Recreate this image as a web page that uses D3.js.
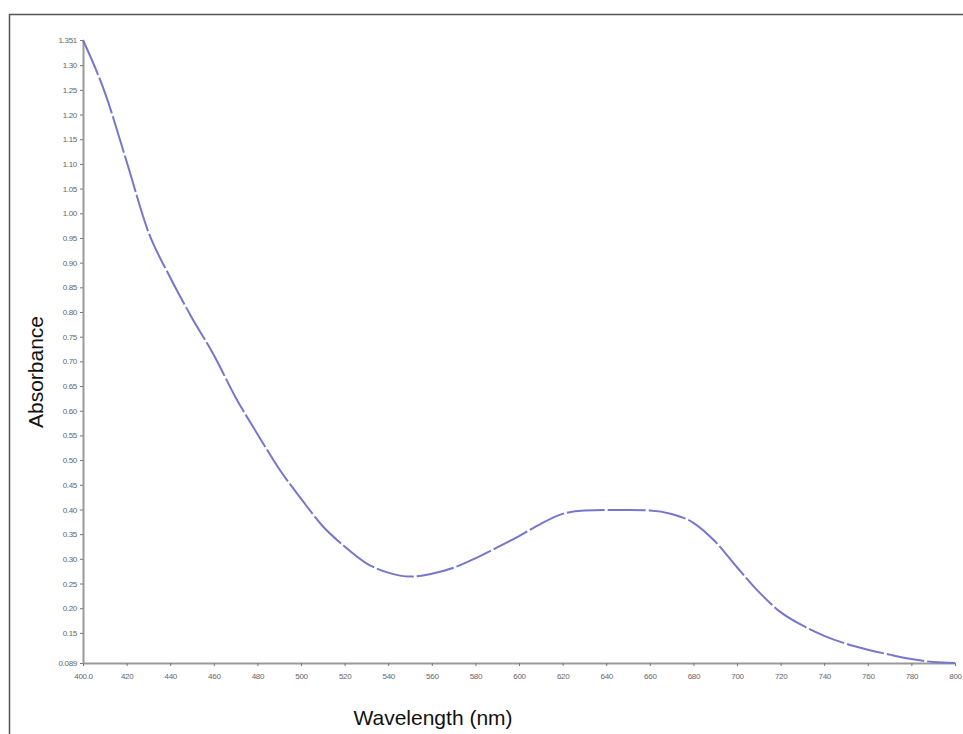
<!DOCTYPE html>
<html>
<head>
<meta charset="utf-8">
<script src="https://cdn.jsdelivr.net/npm/d3@7"></script>
<style>
  html, body { margin: 0; padding: 0; background: #fff; }
  svg { display: block; }
</style>
</head>
<body>
<svg id="chart" width="963" height="734"></svg>
<script>
// 波长 (nm) 与吸光度
const wavelengths = [400, 410, 420, 430, 440, 450, 460, 470, 480, 490, 500, 510, 520, 530, 540, 550,
  560, 570, 580, 590, 600, 610, 620, 630, 640, 650, 660, 670, 680, 690, 700, 710, 720, 730, 740,
  750, 760, 770, 780, 790, 800];
const absorbance = [1.351, 1.245, 1.105, 0.962, 0.870, 0.788, 0.713, 0.627, 0.553, 0.482, 0.422, 0.366,
  0.325, 0.291, 0.272, 0.264, 0.270, 0.282, 0.301, 0.323, 0.346, 0.371, 0.391, 0.398, 0.399, 0.399,
  0.398, 0.391, 0.373, 0.335, 0.283, 0.233, 0.192, 0.165, 0.144, 0.128, 0.116, 0.106, 0.097, 0.091, 0.089];

const xTicks = [400, 420, 440, 460, 480, 500, 520, 540, 560, 580, 600, 620, 640, 660, 680, 700, 720, 740, 760, 780, 800];
const xTickLabels = ["400.0", "420", "440", "460", "480", "500", "520", "540", "560", "580", "600", "620",
  "640", "660", "680", "700", "720", "740", "760", "780", "800"];
const yTicks = [1.351, 1.30, 1.25, 1.20, 1.15, 1.10, 1.05, 1.00, 0.95, 0.90, 0.85, 0.80, 0.75, 0.70, 0.65,
  0.60, 0.55, 0.50, 0.45, 0.40, 0.35, 0.30, 0.25, 0.20, 0.15, 0.089];
const yTickLabels = ["1.351", "1.30", "1.25", "1.20", "1.15", "1.10", "1.05", "1.00", "0.95", "0.90", "0.85",
  "0.80", "0.75", "0.70", "0.65", "0.60", "0.55", "0.50", "0.45", "0.40", "0.35", "0.30", "0.25", "0.20",
  "0.15", "0.089"];

const svg = d3.select("#chart");
const plot = {left: 83, right: 955, top: 40, bottom: 663};

const x = d3.scaleLinear().domain([400, 800]).range([plot.left, plot.right]);
const y = d3.scaleLinear().domain([0.089, 1.351]).range([plot.bottom, plot.top]);

// 外框 (上边和左边)
svg.append("path")
  .attr("d", "M9.5,734 V14.5 H963")
  .attr("fill", "none")
  .attr("stroke", "#555")
  .attr("stroke-width", 1.5);

// X 轴
const gx = svg.append("g")
  .attr("transform", `translate(0,${plot.bottom})`)
  .call(d3.axisBottom(x).tickValues(xTicks).tickSize(3).tickSizeOuter(0)
    .tickFormat((d, i) => xTickLabels[i]));

// Y 轴
const gy = svg.append("g")
  .attr("transform", `translate(${plot.left},0)`)
  .call(d3.axisLeft(y).tickValues(yTicks).tickSize(3).tickSizeOuter(0)
    .tickFormat((d, i) => yTickLabels[i]));

[gx, gy].forEach(g => {
  g.select(".domain").attr("stroke", "#999").attr("stroke-width", 2);
  g.selectAll(".tick line").attr("stroke", "#777");
  g.selectAll(".tick text")
    .attr("fill", "#666")
    .style("font-family", "'Liberation Sans', Arial, sans-serif")
    .style("font-size", "8px")
    .style("letter-spacing", "-0.3px");
});
gx.selectAll(".tick text").attr("dy", "1.3em");
gy.selectAll(".tick text").attr("x", -6);

// 吸收曲线
const data = wavelengths.map((w, i) => ({w, a: absorbance[i]}));
const line = d3.line()
  .x(d => x(d.w))
  .y(d => y(d.a))
  .curve(d3.curveMonotoneX);

svg.append("path")
  .datum(data)
  .attr("d", line)
  .attr("fill", "none")
  .attr("stroke", "#7676cc")
  .attr("stroke-width", 2)
  .attr("stroke-dasharray", "38,3");

// 轴标题
svg.append("text")
  .attr("transform", "translate(43,372) rotate(-90)")
  .attr("text-anchor", "middle")
  .style("font-family", "'Liberation Sans', Arial, sans-serif")
  .style("font-size", "21px")
  .attr("fill", "#111")
  .text("Absorbance");

svg.append("text")
  .attr("x", 433)
  .attr("y", 725)
  .attr("text-anchor", "middle")
  .style("font-family", "'Liberation Sans', Arial, sans-serif")
  .style("font-size", "21px")
  .attr("fill", "#111")
  .text("Wavelength (nm)");
</script>
</body>
</html>
